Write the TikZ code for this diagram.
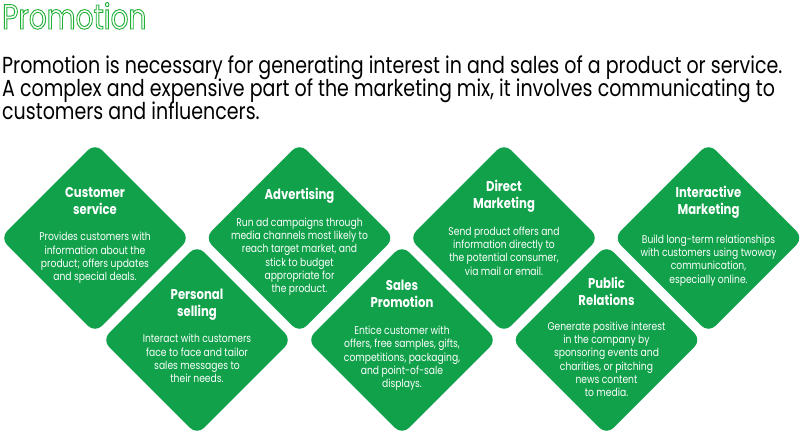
\documentclass[tikz,border=0pt]{standalone}
\usepackage{fontspec}
\usetikzlibrary{shapes.geometric}
\setmainfont[FakeStretch=0.82]{Poppins}
\newfontfamily\headfont[FakeStretch=0.8]{Poppins}
\definecolor{pgreen}{HTML}{10A14A}
\definecolor{tgreen}{HTML}{1FAF35}
\newcommand\outlinetext[1]{\special{pdf:literal direct 1 Tr 0.9 w}#1\special{pdf:literal direct 0 Tr}}
\tikzset{
  pbox/.style={diamond, shape aspect=1, fill=pgreen, draw=none, inner sep=0pt,
    minimum width=190pt, minimum height=190pt, rounded corners=10pt},
  ptitle/.style={anchor=base, align=center, inner sep=0pt, text=white,
    font=\bfseries\fontsize{14.2}{16.8}\selectfont},
  pbody/.style={anchor=base, align=center, inner sep=0pt, text=white,
    font=\fontsize{11.2}{13.33}\selectfont},
  intro/.style={anchor=base west, inner sep=0pt, font=\fontsize{23.2}{23}\selectfont}
}
\begin{document}
\begin{tikzpicture}[x=1pt,y=-1pt]
\useasboundingbox (0,0) rectangle (800,442);
\node[anchor=base west, inner sep=0pt, text=tgreen, font=\headfont\fontsize{35}{36}\selectfont] (head) at (2,29)
  {\outlinetext{Promotion}};
\node[intro] (l1) at (2,73) {Promotion is necessary for generating interest in and sales of a product or service.};
\node[intro] (l2) at (2,96) {A complex and expensive part of the marketing mix, it involves communicating to};
\node[intro] (l3) at (2,119) {customers and influencers.};

\node[pbox] (cs) at (95,238) {};
\node[pbox] (ad) at (299.5,238) {};
\node[pbox] (dm) at (504,238) {};
\node[pbox] (im) at (708.5,238) {};
\node[pbox] (ps) at (197,340) {};
\node[pbox] (sp) at (402,340) {};
\node[pbox] (pr) at (606.5,340) {};

\node[ptitle] (cst) at (95,214) {Customer\\service};
\node[pbody] (csb) at (95,280.7) {Provides customers with\\information about the\\product; offers updates\\and special deals.};

\node[ptitle] (adt) at (299.5,199) {Advertising};
\node[pbody] (adb) at (299.5,292.7) {Run ad campaigns through\\media channels most likely to\\reach target market, and\\stick to budget\\appropriate for\\the product.};

\node[ptitle] (dmt) at (504,208.3) {Direct\\Marketing};
\node[pbody] (dmb) at (504,275) {Send product offers and\\information directly to\\the potential consumer,\\via mail or email.};

\node[ptitle] (imt) at (708.5,214) {Interactive\\Marketing};
\node[pbody] (imb) at (708.5,283.3) {Build long-term relationships\\with customers using twoway\\communication,\\especially online.};

\node[ptitle] (pst) at (197,316) {Personal\\selling};
\node[pbody] (psb) at (197,382.7) {Interact with customers\\face to face and tailor\\sales messages to\\their needs.};

\node[ptitle] (spt) at (402,307.7) {Sales\\Promotion};
\node[pbody] (spb) at (402,387.7) {Entice customer with\\offers, free samples, gifts,\\competitions, packaging,\\and point-of-sale\\displays.};

\node[ptitle] (prt) at (606.5,305) {Public\\Relations};
\node[pbody] (prb) at (606.5,396.7) {Generate positive interest\\in the company by\\sponsoring events and\\charities, or pitching\\news content\\to media.};
\end{tikzpicture}
\end{document}
